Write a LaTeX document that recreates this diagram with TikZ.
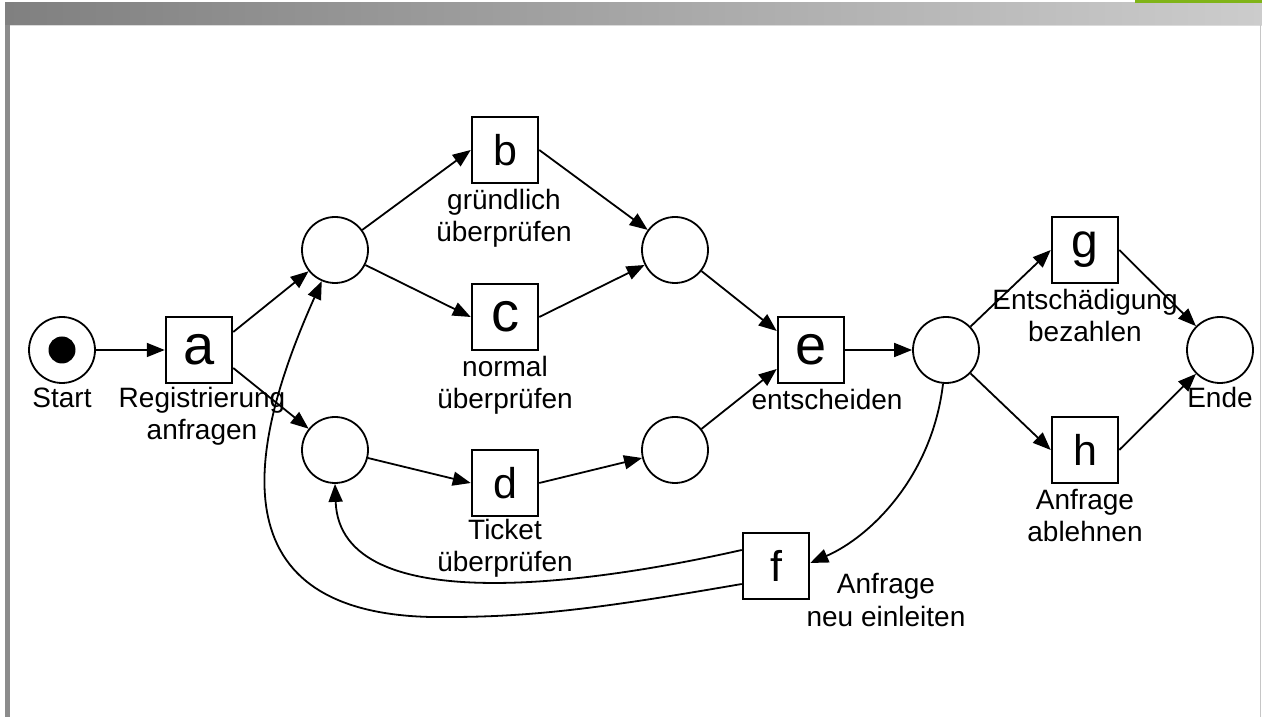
\documentclass[tikz,border=0pt]{standalone}
\usepackage{fontspec}
\setmainfont{Liberation Sans}
\usetikzlibrary{arrows.meta,calc}
\definecolor{barDark}{HTML}{808080}
\definecolor{barLight}{HTML}{CCCCCC}
\definecolor{accent}{RGB}{128,180,24}
\definecolor{sideBar}{HTML}{8C8C8C}
\begin{document}
\begin{tikzpicture}[x=1pt,y=1pt,
  place/.style={circle, draw, line width=1.8pt, minimum size=66pt, inner sep=0pt},
  trans/.style={rectangle, draw, line width=2.5pt, minimum size=66pt, inner sep=0pt,
                font=\fontsize{43}{43}\selectfont},
  widetrans/.style={trans, font=\fontsize{56}{56}\selectfont},
  token/.style={circle, fill, minimum size=27pt, inner sep=0pt},
  lbl/.style={anchor=base, align=center, inner sep=0pt, font=\fontsize{28}{32}\selectfont},
  arc/.style={line width=1.8pt, -{Triangle[length=18pt,width=14pt]}},
]
\useasboundingbox (0,0) rectangle (1262,717);

% slide frame: header bar, accent strip, side bar
\shade[left color=barDark, right color=barLight] (5,692) rectangle (1262,714);
\fill[barLight!70!white] (5,690.5) rectangle (1262,692);
\fill[accent] (1135,714) rectangle (1262,717);
\fill[sideBar] (5,0) rectangle (10,692);
\fill[gray!45] (1259.5,0) rectangle (1261,692);

% places
\node[place] (start) at (62,367) {};
\node[token] (tok) at (start) {};
\node[place] (p1) at (335,467) {};
\node[place] (p2) at (335,267) {};
\node[place] (p3) at (675,467) {};
\node[place] (p4) at (675,267) {};
\node[place] (p5) at (946,367) {};
\node[place] (ende) at (1220,367) {};

% transitions
\node[widetrans] (a) at (199,367) {a};
\node[trans] (b) at (505,567) {b};
\node[widetrans] (c) at (505,400) {c};
\node[trans] (d) at (505,234) {d};
\node[widetrans] (e) at (811,367) {e};
\node[trans] (f) at (776,151) {f};
\node[trans, font=\fontsize{48}{48}\selectfont] (g) at (1085,467) {g};
\node[trans] (h) at (1085,267) {h};

% labels (base anchor sits on the last line)
\node[lbl] (lstart) at (62,309) {Start};
\node[lbl] (la) at (202,277) {Registrierung\\anfragen};
\node[lbl] (lb) at (504,475) {gründlich\\überprüfen};
\node[lbl] (lc) at (505,308) {normal\\überprüfen};
\node[lbl] (ld) at (505,145) {Ticket\\überprüfen};
\node[lbl] (le) at (827,307) {entscheiden};
\node[lbl, font=\fontsize{28}{33}\selectfont] (lf) at (886,90) {Anfrage\\neu einleiten};
\node[lbl] (lg) at (1085,375) {Entschädigung\\bezahlen};
\node[lbl] (lh) at (1085,175) {Anfrage\\ablehnen};
\node[lbl] (lende) at (1220,309) {Ende};

% arcs
\draw[arc] (start) -- (a);
\draw[arc] ([yshift=18pt]a.east) -- (p1);
\draw[arc] ([yshift=-18pt]a.east) -- (p2);
\draw[arc] (p1) -- (b.west);
\draw[arc] (p1) -- (c.west);
\draw[arc] (p2) -- (d.west);
\draw[arc] (b.east) -- (p3);
\draw[arc] (c.east) -- (p3);
\draw[arc] (d.east) -- (p4);
\draw[arc] (p3) -- ([yshift=19pt]e.west);
\draw[arc] (p4) -- ([yshift=-19pt]e.west);
\draw[arc] (e.east) -- (p5);
\draw[arc] (p5) -- (g.west);
\draw[arc] (p5) -- (h.west);
\draw[arc] (g.east) -- (ende);
\draw[arc] (h.east) -- (ende);

% loop back through f
\draw[arc] (p5.265) .. controls (932,240) and (870,180) .. ([yshift=3pt]f.east);
\draw[arc] ([yshift=16pt]f.west) .. controls (600,135) and (340,95) .. (p2.south);
\draw[arc] ([yshift=-18pt]f.west) .. controls (620,112) and (540,100) .. (450,100)
           .. controls (205,95) and (252,280) .. (p1.247);
\end{tikzpicture}
\end{document}
